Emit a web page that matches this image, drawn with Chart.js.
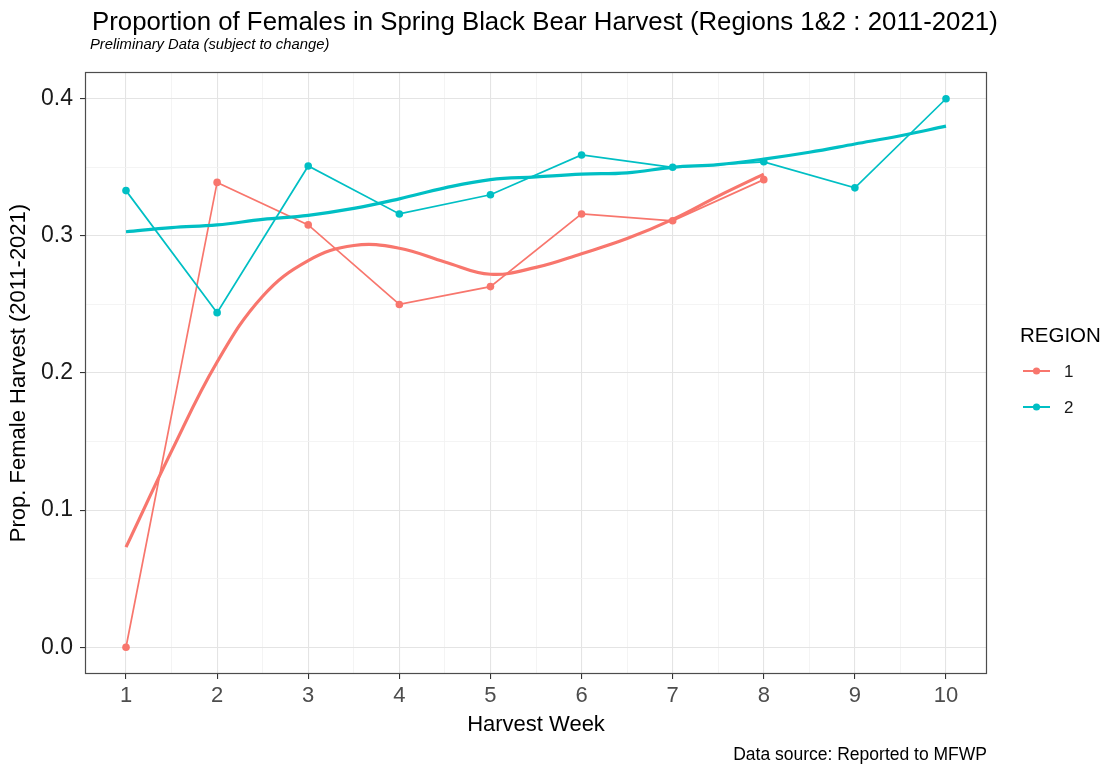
<!DOCTYPE html>
<html>
<head>
<meta charset="utf-8">
<title>Proportion of Females in Spring Black Bear Harvest</title>
<script src="https://cdn.jsdelivr.net/npm/chart.js@4.4.1/dist/chart.umd.min.js"></script>
<style>
  html, body { margin: 0; padding: 0; background: #ffffff; }
  #wrap { width: 1106px; height: 767px; }
</style>
</head>
<body>
<div id="wrap"><canvas id="chart" width="1106" height="767"></canvas></div>
<script>
// Harvest weeks and observed proportion of females by region
const weeks = [1, 2, 3, 4, 5, 6, 7, 8, 9, 10];
const region1Prop = [0.000, 0.339, 0.308, 0.250, 0.263, 0.316, 0.311, 0.341];
const region2Prop = [0.333, 0.244, 0.351, 0.316, 0.330, 0.359, 0.350, 0.354, 0.335, 0.400];

// Smoothed trend (loess) sampled every half week
const region1TrendWeeks = [1, 1.5, 2, 2.5, 3, 3.5, 4, 4.5, 5, 5.5, 6, 6.5, 7, 7.5, 8];
const region1Trend = [0.073, 0.143, 0.208, 0.256, 0.282, 0.293, 0.291, 0.281, 0.272, 0.277, 0.287, 0.298, 0.312, 0.329, 0.345];
const region2TrendWeeks = [1, 1.5, 2, 2.5, 3, 3.5, 4, 4.5, 5, 5.5, 6, 6.5, 7, 7.5, 8, 8.5, 9, 9.5, 10];
const region2Trend = [0.303, 0.306, 0.308, 0.312, 0.315, 0.320, 0.327, 0.335, 0.341, 0.343, 0.345, 0.346, 0.350, 0.352, 0.356, 0.361, 0.367, 0.373, 0.380];

// Axis ticks (major labelled, minor unlabelled)
const xTicks = [1, 1.5, 2, 2.5, 3, 3.5, 4, 4.5, 5, 5.5, 6, 6.5, 7, 7.5, 8, 8.5, 9, 9.5, 10];
const yTicks = [0, 0.05, 0.1, 0.15, 0.2, 0.25, 0.3, 0.35, 0.4];
const regionLabels = ['1', '2'];

const COL1 = '#F8766D';
const COL2 = '#00BFC4';
const FONT = "'Liberation Sans', Arial, Helvetica, sans-serif";

const pts = (xs, ys) => ys.map((v, i) => ({ x: xs[i], y: v }));
const majorX = v => Number.isInteger(v);
const majorY = v => Math.round(v * 100) % 10 === 0;

const decorations = {
  id: 'decorations',
  beforeDraw(chart) {
    const ctx = chart.ctx;
    ctx.save();
    ctx.fillStyle = '#ffffff';
    ctx.fillRect(0, 0, chart.width, chart.height);
    ctx.restore();
  },
  afterDraw(chart) {
    const { ctx, chartArea: a } = chart;
    ctx.save();
    // panel border
    ctx.strokeStyle = '#4d4d4d';
    ctx.lineWidth = 1.2;
    ctx.strokeRect(a.left + 0.5, a.top + 0.5, a.right - a.left - 1, a.bottom - a.top - 1);

    // title and subtitle
    ctx.fillStyle = '#000000';
    ctx.textBaseline = 'alphabetic';
    ctx.textAlign = 'left';
    ctx.font = '25.8px ' + FONT;
    ctx.fillText('Proportion of Females in Spring Black Bear Harvest (Regions 1&2 : 2011-2021)', 92, 30);
    ctx.font = 'italic 14.8px ' + FONT;
    ctx.fillText('Preliminary Data (subject to change)', 90, 49);

    // caption
    ctx.textAlign = 'right';
    ctx.font = '17.5px ' + FONT;
    ctx.fillText('Data source: Reported to MFWP', 987, 760);

    // legend
    ctx.textAlign = 'left';
    ctx.font = '20.5px ' + FONT;
    ctx.fillText('REGION', 1020, 342);
    const items = [[regionLabels[0], COL1, 371], [regionLabels[1], COL2, 407]];
    ctx.font = '17px ' + FONT;
    ctx.textBaseline = 'middle';
    for (const [lab, col, y] of items) {
      ctx.strokeStyle = col;
      ctx.lineWidth = 2;
      ctx.beginPath();
      ctx.moveTo(1023, y);
      ctx.lineTo(1050, y);
      ctx.stroke();
      ctx.fillStyle = col;
      ctx.beginPath();
      ctx.arc(1036.5, y, 3.6, 0, Math.PI * 2);
      ctx.fill();
      ctx.fillStyle = '#1a1a1a';
      ctx.fillText(lab, 1064, y + 1);
    }
    ctx.restore();
  }
};

new Chart(document.getElementById('chart'), {
  type: 'line',
  data: {
    datasets: [
      {
        label: 'Region 2 trend',
        data: pts(region2TrendWeeks, region2Trend),
        borderColor: COL2,
        borderWidth: 3.2,
        pointRadius: 0,
        tension: 0.4,
        fill: false,
        order: 0
      },
      {
        label: 'Region 1 trend',
        data: pts(region1TrendWeeks, region1Trend),
        borderColor: COL1,
        borderWidth: 3.2,
        pointRadius: 0,
        tension: 0.4,
        fill: false,
        order: 1
      },
      {
        label: 'Region 2',
        data: pts(weeks, region2Prop),
        borderColor: COL2,
        backgroundColor: COL2,
        borderWidth: 1.7,
        pointRadius: 3.8,
        pointBorderWidth: 0,
        tension: 0,
        fill: false,
        order: 2
      },
      {
        label: 'Region 1',
        data: pts(weeks, region1Prop),
        borderColor: COL1,
        backgroundColor: COL1,
        borderWidth: 1.7,
        pointRadius: 3.8,
        pointBorderWidth: 0,
        tension: 0,
        fill: false,
        order: 3
      }
    ]
  },
  options: {
    responsive: false,
    animation: false,
    devicePixelRatio: 1,
    layout: { padding: { top: 72, right: 119, left: 0, bottom: 0 } },
    plugins: {
      legend: { display: false },
      tooltip: { enabled: false },
      title: { display: false }
    },
    scales: {
      x: {
        type: 'linear',
        min: 0.55,
        max: 10.45,
        afterFit(scale) { scale.height = 93; },
        afterBuildTicks(scale) { scale.ticks = xTicks.map(v => ({ value: v })); },
        border: { display: false },
        grid: {
          color: ctx => (ctx.tick && majorX(ctx.tick.value)) ? '#e4e4e4' : '#f1f1f1',
          lineWidth: ctx => (ctx.tick && majorX(ctx.tick.value)) ? 1.1 : 0.8,
          tickColor: ctx => (ctx.tick && majorX(ctx.tick.value)) ? '#333333' : 'rgba(0,0,0,0)',
          tickLength: 5,
          drawTicks: true
        },
        ticks: {
          autoSkip: false,
          maxRotation: 0,
          padding: 4,
          color: '#4d4d4d',
          font: { family: FONT, size: 22 },
          callback: v => Number.isInteger(v) ? String(v) : ''
        },
        title: {
          display: true,
          text: 'Harvest Week',
          color: '#000000',
          font: { family: FONT, size: 22 },
          padding: { top: 0, bottom: 29 }
        }
      },
      y: {
        type: 'linear',
        min: -0.0195,
        max: 0.4195,
        afterFit(scale) { scale.width = 85; },
        afterBuildTicks(scale) { scale.ticks = yTicks.map(v => ({ value: v })); },
        border: { display: false },
        grid: {
          color: ctx => (ctx.tick && majorY(ctx.tick.value)) ? '#e4e4e4' : '#f1f1f1',
          lineWidth: ctx => (ctx.tick && majorY(ctx.tick.value)) ? 1.1 : 0.8,
          tickColor: ctx => (ctx.tick && majorY(ctx.tick.value)) ? '#333333' : 'rgba(0,0,0,0)',
          tickLength: 5,
          drawTicks: true
        },
        ticks: {
          autoSkip: false,
          padding: 7,
          color: '#1a1a1a',
          font: { family: FONT, size: 23 },
          callback: v => majorY(v) ? v.toFixed(1) : ''
        },
        title: {
          display: true,
          text: 'Prop. Female Harvest (2011-2021)',
          color: '#000000',
          font: { family: FONT, size: 22 },
          padding: { top: 6, bottom: 0 }
        }
      }
    }
  },
  plugins: [decorations]
});
</script>
</body>
</html>
